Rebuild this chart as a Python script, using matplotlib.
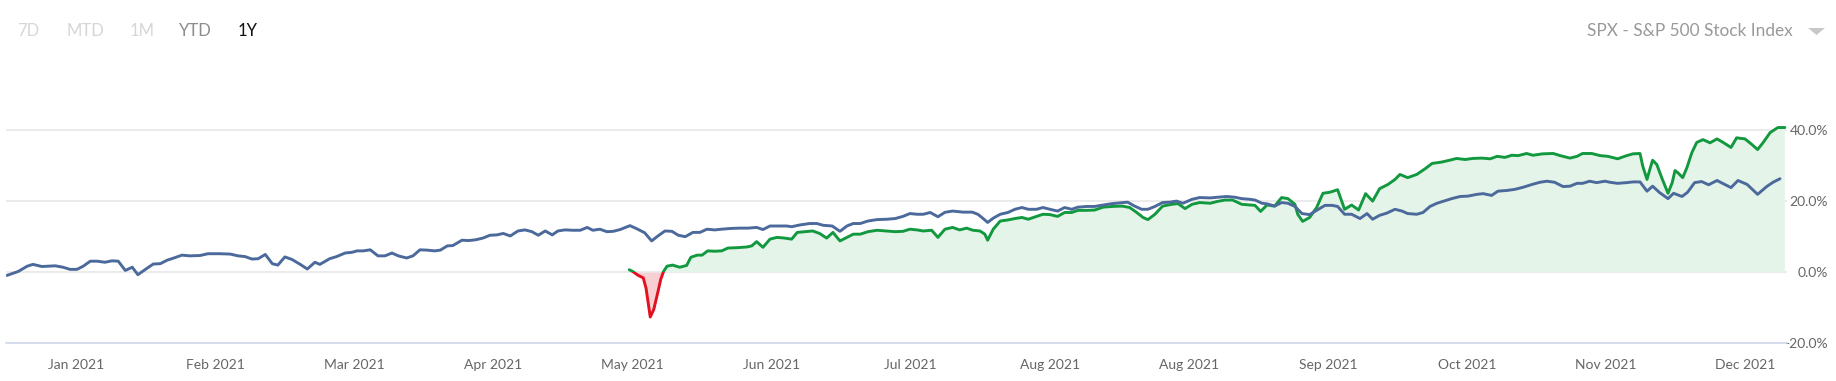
import numpy as np
import matplotlib
matplotlib.use("Agg")
import matplotlib.pyplot as plt
from matplotlib.patches import Rectangle, Polygon

# ---------------- data ----------------
# x unit: trading sessions since start of the 1Y window
blue_t = [1.0, 2.6, 3.9, 4.7, 6.0, 7.9, 9.0, 10.0, 11.0, 11.9, 12.9, 13.9, 15.0, 16.0, 16.9, 17.9, 18.9, 19.7,
          21.0, 21.9, 22.9, 23.9, 24.7, 26.0, 27.1, 28.6, 29.7, 31.4, 32.9, 34.0, 35.0, 36.0, 36.9, 37.9, 38.9,
          39.7, 40.7, 41.7, 42.9, 43.9, 45.0, 45.7, 47.1, 48.1, 49.3, 50.3, 51.0, 51.9, 52.9, 54.0, 55.0, 56.0,
          56.9, 58.1, 59.0, 60.0, 61.1, 62.1, 62.9, 63.9, 64.7, 66.0, 66.9, 67.9, 69.0, 70.0, 71.0, 71.9, 72.9,
          74.0, 75.0, 76.0, 76.9, 77.9, 78.9, 79.7, 80.7, 81.9, 82.9, 83.9, 84.7, 85.7, 86.7, 87.6, 88.6, 90.0,
          91.0, 92.1, 93.1, 94.0, 95.0, 96.0, 96.9, 97.9, 99.0, 100.0, 101.0, 102.1, 103.1, 104.3, 105.7, 106.9,
          108.1, 109.0, 110.0, 111.1, 112.4, 113.1, 114.3, 115.7, 116.7, 117.6, 118.9, 120.0, 121.0, 121.9,
          122.9, 124.0, 125.3, 126.7, 127.9, 129.0, 130.0, 131.0, 131.9, 132.9, 134.0, 135.0, 136.1, 137.6,
          138.9, 139.7, 140.4, 141.1, 141.9, 142.9, 144.0, 145.0, 146.0, 146.9, 148.1, 149.0, 150.0, 151.1,
          152.1, 153.1, 154.0, 155.3, 156.4, 157.6, 158.9, 160.0, 161.1, 162.1, 163.1, 164.0, 165.0, 166.1,
          167.1, 168.1, 169.0, 170.3, 171.4, 172.9, 174.0, 175.3, 176.4, 177.4, 178.6, 179.3, 180.3, 181.1,
          182.1, 183.1, 184.0, 185.0, 186.0, 187.1, 188.1, 189.3, 190.3, 191.1, 192.1, 193.1, 194.3, 195.3,
          196.1, 197.1, 198.1, 199.3, 200.3, 201.1, 202.4, 203.3, 204.3, 205.3, 206.1, 207.4, 208.6, 209.7,
          211.0, 211.9, 213.1, 214.0, 215.3, 216.4, 217.6, 218.9, 220.0, 221.0, 222.1, 223.3, 224.3, 225.3,
          226.1, 227.1, 228.1, 229.3, 230.0, 231.1, 232.4, 233.3, 234.3, 235.3, 236.1, 237.1, 238.3, 239.1,
          240.3, 241.1, 242.1, 243.1, 244.1, 245.3, 246.1, 247.3, 248.3, 249.6, 251.1, 252.4, 253.3, 254.3]
blue_pct = [-0.9, 0.2, 1.7, 2.2, 1.6, 1.8, 1.4, 0.8, 0.8, 1.7, 3.1, 3.1, 2.8, 3.2, 3.1, 0.5, 1.4, -0.7,
            1.1, 2.3, 2.4, 3.4, 3.9, 4.8, 4.6, 4.7, 5.2, 5.2, 5.1, 4.6, 4.4, 3.7, 3.8, 5.0, 2.4,
            2.0, 4.3, 3.6, 2.2, 0.9, 2.8, 2.2, 3.8, 4.4, 5.4, 5.6, 6.0, 6.0, 6.3, 4.6, 4.6, 5.4,
            4.6, 4.0, 4.6, 6.3, 6.2, 6.0, 6.2, 7.4, 7.5, 9.0, 8.9, 9.1, 9.6, 10.4, 10.5, 10.9, 10.2,
            11.6, 11.9, 11.4, 10.4, 11.6, 10.5, 11.6, 11.9, 11.8, 11.8, 12.6, 11.8, 12.1, 11.4, 11.5, 12.0, 13.1,
            12.2, 11.1, 8.8, 10.2, 11.6, 11.5, 10.4, 10.0, 11.2, 11.2, 12.1, 11.9, 12.1, 12.3, 12.4, 12.4,
            12.6, 12.0, 13.0, 13.0, 13.0, 12.8, 13.3, 13.7, 13.7, 13.2, 13.0, 11.5, 13.0, 13.7,
            13.7, 14.4, 14.8, 14.9, 15.1, 15.7, 16.5, 16.3, 16.3, 16.8, 15.6, 16.85, 17.2, 16.9,
            16.9, 16.3, 15.2, 14.0, 15.2, 16.3, 16.8, 17.7, 18.2, 17.7, 17.7, 18.2, 17.7, 17.2,
            18.2, 17.7, 18.3, 18.5, 18.5, 18.9, 19.3, 19.5, 19.7, 18.6, 17.7, 17.7, 18.5, 19.6,
            19.7, 20.0, 19.4, 20.5, 21.0, 20.9, 21.1, 21.3, 21.1, 20.7, 20.5, 20.3, 19.4, 19.2,
            18.6, 19.6, 19.4, 18.5, 16.5, 16.2, 17.4, 18.8, 18.8, 18.5, 16.3, 16.3, 15.1, 16.5,
            14.9, 16.0, 16.6, 17.7, 17.2, 16.5, 16.3, 16.8, 18.5, 19.4, 19.9, 20.7, 21.3, 21.4,
            21.9, 22.1, 21.6, 22.8, 23.0, 23.3, 23.9, 24.7, 25.3, 25.6, 25.3, 24.1, 24.2, 25.0,
            25.0, 25.6, 25.2, 25.6, 25.3, 25.0, 25.2, 25.4, 25.4, 22.8, 24.2, 22.4, 20.7, 22.2,
            21.3, 22.5, 25.2, 25.5, 24.6, 25.8, 25.0, 23.8, 25.8, 24.7, 21.9, 24.1, 25.3, 26.3]

strat_t = [89.9, 90.4, 91.1, 91.9, 92.3, 92.9, 93.4, 94.0, 94.4, 94.8, 95.3, 96.1, 97.1, 98.1, 98.7, 99.6,
           100.3, 101.1, 102.1, 103.1, 104.0, 105.3, 106.7, 107.4, 108.1, 109.0, 110.0, 111.0, 112.1, 113.1,
           113.9, 115.0, 116.1, 117.1, 118.1, 119.0, 120.0, 121.0, 121.9, 122.9, 124.0, 125.3, 126.7, 127.9,
           129.0, 130.0, 131.0, 131.9, 133.1, 134.0, 135.0, 136.1, 137.1, 138.1, 139.0, 140.0, 140.7, 141.1,
           141.9, 142.9, 144.0, 145.0, 146.0, 146.9, 148.1, 149.0, 150.0, 151.1, 152.1, 153.1, 154.0, 155.3,
           156.4, 157.6, 158.9, 160.3, 161.4, 162.4, 163.3, 164.0, 165.0, 166.1, 167.4, 168.3, 169.3, 170.3,
           171.4, 172.9, 173.9, 175.0, 176.1, 177.4, 178.6, 179.3, 180.1, 181.0, 182.1, 183.1, 184.0, 185.0,
           185.4, 186.1, 187.1, 188.1, 189.0, 190.0, 191.1, 192.1, 193.1, 194.1, 195.1, 196.1, 197.1, 198.3,
           199.3, 200.0, 201.1, 202.4, 203.6, 204.6, 206.0, 207.1, 208.1, 209.3, 210.4, 211.7, 212.9, 213.9,
           215.0, 216.0, 216.9, 218.1, 219.0, 220.4, 221.9, 222.9, 224.3, 225.3, 226.1, 227.4, 228.6, 229.7,
           231.1, 232.4, 233.3, 234.3, 234.7, 235.3, 235.7, 236.1, 236.7, 237.4, 238.3, 238.9, 239.3, 239.7,
           240.4, 241.0, 241.7, 242.4, 243.3, 244.3, 245.3, 246.1, 247.3, 248.1, 249.3, 250.3, 251.1, 251.9,
           252.9, 254.0, 255.0]
strat_pct = [0.7, 0.2, -0.8, -1.6, -4.5, -12.6, -10.5, -5.5, -2.0, 0.2, 1.7, 2.0, 1.4, 1.9, 4.2, 4.8,
             4.8, 6.0, 5.9, 6.0, 6.8, 6.9, 7.1, 7.4, 8.6, 7.0, 9.3, 9.8, 9.6, 9.3,
             11.2, 11.4, 11.6, 10.9, 9.6, 11.2, 8.8, 9.8, 10.7, 10.7, 11.4, 11.8, 11.6, 11.4,
             11.5, 12.1, 11.9, 11.6, 11.8, 9.8, 12.1, 12.6, 11.9, 12.4, 11.8, 11.6, 10.7, 9.0,
             12.1, 14.4, 14.7, 15.1, 15.4, 14.9, 15.7, 16.3, 16.2, 15.7, 16.8, 16.8, 17.4, 17.4,
             17.5, 18.3, 18.5, 18.6, 18.2, 16.8, 15.4, 14.8, 16.3, 18.6, 19.1, 19.3, 17.9, 19.1,
             19.6, 19.4, 19.9, 20.3, 20.3, 19.1, 18.9, 18.8, 17.1, 18.9, 18.6, 21.0, 20.7, 19.1,
             16.3, 14.3, 15.4, 18.2, 22.2, 22.5, 23.2, 17.7, 18.9, 17.5, 22.1, 20.0, 23.5, 24.7,
             26.1, 27.5, 26.6, 27.5, 29.1, 30.6, 31.0, 31.5, 32.0, 31.7, 32.0, 32.1, 31.9, 32.6,
             32.3, 32.9, 32.8, 33.4, 32.9, 33.3, 33.4, 32.8, 32.1, 32.6, 33.4, 33.4, 32.8, 32.6,
             31.9, 32.8, 33.3, 33.4, 29.8, 26.1, 28.9, 31.5, 30.3, 26.6, 22.2, 25.2, 28.6, 28.0,
             26.6, 29.4, 33.6, 36.5, 37.3, 36.4, 37.5, 36.6, 35.1, 37.8, 37.5, 35.9, 34.5, 36.5,
             39.3, 40.7, 40.7]

month_labels = ["Jan 2021", "Feb 2021", "Mar 2021", "Apr 2021", "May 2021", "Jun 2021", "Jul 2021",
                "Aug 2021", "Aug 2021", "Sep 2021", "Oct 2021", "Nov 2021", "Dec 2021"]
y_ticks = [-20, 0, 20, 40]
range_buttons = ["7D", "MTD", "1M", "YTD", "1Y"]
index_name = "SPX - S&P 500 Stock Index"

# ---------------- style ----------------
BLUE = "#4b6a9b"
GREEN = "#12993f"
RED = "#e3101f"
FILL_G = "#e5f4e9"
FILL_R = "#f8d0d4"
GRID = "#e6e6e6"
LABEL = "#666666"

plt.rcParams['font.family'] = ['Lato', 'DejaVu Sans']

W, H, DPI = 1836, 381, 100
fig = plt.figure(figsize=(W / DPI, H / DPI), dpi=DPI)
ax = fig.add_axes([6 / W, 1 - 343.3 / H, (1787 - 6) / W, 266.6 / H])
x_min, x_max = 0.86, 255.3
ax.set_xlim(x_min, x_max)
ax.set_ylim(-20, 55)

t = np.array(strat_t)
g = np.array(strat_pct)
ax.fill_between(t, g, 0, where=g >= 0, interpolate=True, color=FILL_G, lw=0, zorder=1)
ax.fill_between(t, g, 0, where=g <= 0, interpolate=True, color=FILL_R, lw=0, zorder=1)

lg, = ax.plot(t, g, color=GREEN, lw=2.1, solid_joinstyle='round', solid_capstyle='round', zorder=3)
lg.set_clip_path(Rectangle((x_min, 0), x_max - x_min, 100, transform=ax.transData))
lr, = ax.plot(t, g, color=RED, lw=2.1, solid_joinstyle='round', solid_capstyle='round', zorder=3)
lr.set_clip_path(Rectangle((x_min, -100), x_max - x_min, 100, transform=ax.transData))

ax.plot(blue_t, blue_pct, color=BLUE, lw=2.1, solid_joinstyle='round', solid_capstyle='round', zorder=4)

# grid / axes
ax.set_yticks(y_ticks)
ax.set_yticklabels([f"{v:.1f}%" for v in y_ticks])
ax.grid(axis='y', color=GRID, lw=1.1, zorder=0)
ax.set_axisbelow(True)
for s in ['top', 'left', 'right']:
    ax.spines[s].set_visible(False)
ax.spines['bottom'].set_color('#ccd6eb')
ax.spines['bottom'].set_linewidth(1.1)
ax.yaxis.tick_right()
ax.tick_params(axis='y', length=0, pad=29.5, labelsize=10, labelcolor=LABEL)
for lbl in ax.get_yticklabels():
    lbl.set_ha('right')

tick_pos = 10.87 + 19.87 * np.arange(len(month_labels))
ax.set_xticks(tick_pos)
ax.set_xticklabels(month_labels)
ax.tick_params(axis='x', length=0, pad=11, labelsize=10, labelcolor=LABEL)

# header
btn_x = [17, 67, 130, 179, 238]
btn_c = ["#d6d6d6", "#d6d6d6", "#d6d6d6", "#8c8c8c", "#111111"]
for lab, x, c in zip(range_buttons, btn_x, btn_c):
    fig.text(x / W, 1 - 31 / H, lab, ha='left', va='center', fontsize=12, color=c)

fig.text(1793 / W, 1 - 31 / H, index_name, ha='right', va='center', fontsize=12.4, color="#999999")
tri = Polygon([[1808 / W, 1 - 28 / H], [1825 / W, 1 - 28 / H], [1816.5 / W, 1 - 35 / H]],
              closed=True, transform=fig.transFigure, color="#c8c8c8", lw=0)
fig.patches.append(tri)

fig.savefig("out.png", dpi=DPI, facecolor='white')
